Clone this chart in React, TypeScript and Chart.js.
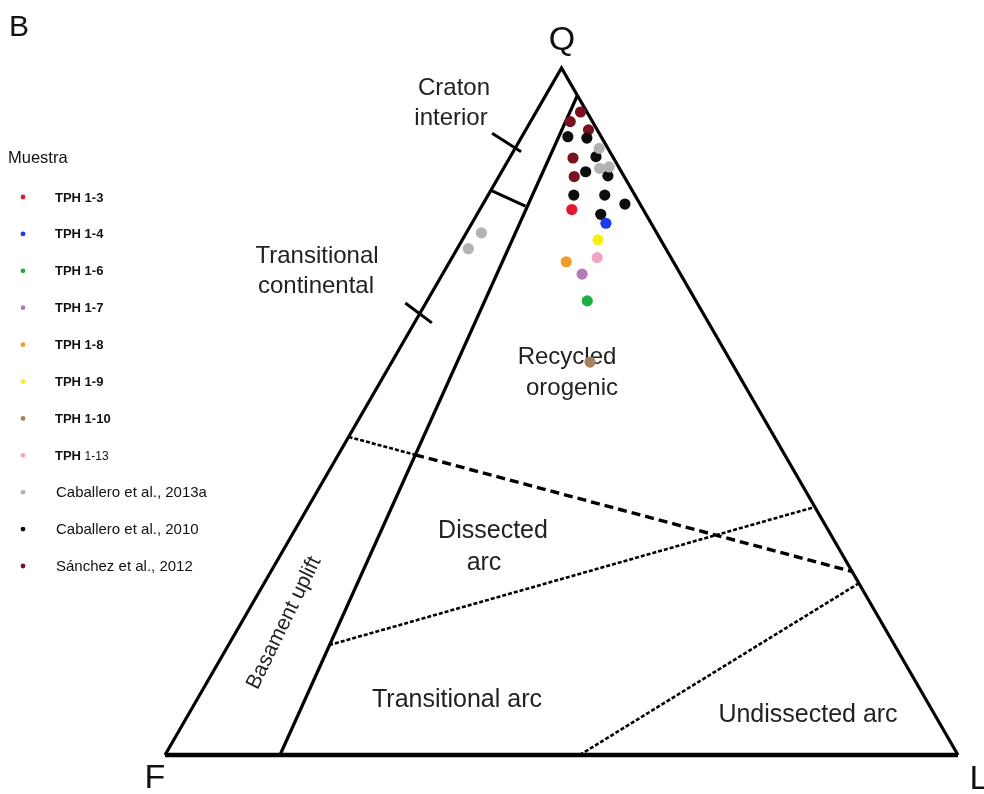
import React, { useEffect, useRef } from "react";
import { Chart, registerables } from "chart.js";

Chart.register(...registerables);

// Compositions are [Q, F, L] in percent.
type Comp = [number, number, number];

// ---- Sample compositions ----
const tph13: Comp[] = [[79.4, 9.0, 11.6]];
const tph14: Comp[] = [[77.4, 5.7, 16.9]];
const tph16: Comp[] = [[66.1, 13.7, 20.2]];
const tph17: Comp[] = [[70.0, 12.4, 17.6]];
const tph18: Comp[] = [[71.8, 13.5, 14.7]];
const tph19: Comp[] = [[75.0, 7.9, 17.1]];
const tph110: Comp[] = [[57.2, 17.8, 25.0]];
const tph113: Comp[] = [[72.4, 9.3, 18.3]];
const caballero2013a: Comp[] = [
  [88.3, 1.1, 10.6],
  [85.4, 2.5, 12.1],
  [85.6, 1.2, 13.2],
  [76.0, 22.1, 1.9],
  [73.7, 24.9, 1.4],
];
const caballero2010: Comp[] = [
  [90.0, 4.2, 5.8],
  [89.8, 1.9, 8.3],
  [87.1, 2.1, 10.8],
  [84.9, 4.5, 10.6],
  [84.3, 2.0, 13.7],
  [81.5, 7.7, 10.8],
  [81.5, 3.8, 14.7],
  [80.2, 1.9, 17.9],
  [78.7, 5.7, 15.6],
];
const sanchez2012: Comp[] = [
  [93.6, 0.8, 5.6],
  [92.2, 2.8, 5.0],
  [91.0, 1.1, 7.9],
  [86.9, 5.1, 8.0],
  [84.2, 6.3, 9.5],
];

const sampleNames = [
  "TPH 1-3",
  "TPH 1-4",
  "TPH 1-6",
  "TPH 1-7",
  "TPH 1-8",
  "TPH 1-9",
  "TPH 1-10",
  "TPH 1-13",
  "Caballero et al., 2013a",
  "Caballero et al., 2010",
  "Sánchez et al., 2012",
];
const sampleSets = [
  tph13, tph14, tph16, tph17, tph18, tph19, tph110, tph113,
  caballero2013a, caballero2010, sanchez2012,
];
const sampleColors = [
  "#e3172f", "#1c38f2", "#1fae45", "#b57ab8", "#ef9b2a", "#f7ee12",
  "#a78261", "#efa6c6", "#b3b3b3", "#0d0d0d", "#7b1222",
];

// ---- Dickinson QFL field boundaries ----
const triangleSides: Comp[] = [[0, 100, 0], [100, 0, 0], [0, 0, 100]];
const triangleBase: Comp[] = [[0, 100, 0], [0, 0, 100]];
const continentalBlockLimit: Comp[] = [[0, 85.5, 14.5], [96, 0, 4]];
const cratonTick: Comp[] = [[90.5, 13.5, -4.0], [87.8, 11.2, 1.0]];
const cratonTransitionalLimit: Comp[] = [[82.2, 17.8, 0], [79.9, 14.6, 5.5]];
const transitionalTick: Comp[] = [[65.8, 36.8, -2.6], [62.9, 34.9, 2.2]];
const upliftLimit: Comp[] = [[46.3, 53.7, 0], [43.7, 46.6, 9.7]];
const recycledLimit: Comp[] = [[43.7, 46.6, 9.7], [26.7, 0, 73.3]];
const dissectedLimit: Comp[] = [[16.0, 71.3, 12.7], [36.1, 0, 63.9]];
const undissectedLimit: Comp[] = [[0, 47.7, 52.3], [25.0, 0, 75.0]];

// ternary -> cartesian (unit side, Q apex on top)
const toXY = (c: Comp) => ({ x: (c[2] + c[0] / 2) / 100, y: c[0] / 100 });

const FONT = '"Liberation Sans", Arial, Helvetica, sans-serif';

const lineSet = (
  data: Comp[],
  width: number,
  dash: number[] = []
) => ({
  type: "scatter" as const,
  data: data.map(toXY),
  showLine: true,
  borderColor: "#000",
  backgroundColor: "#000",
  borderWidth: width,
  borderDash: dash,
  pointRadius: 0,
  pointHoverRadius: 0,
  tension: 0,
  borderCapStyle: "butt" as const,
  clip: false as const,
});

const labelsPlugin = {
  id: "qflLabels",
  beforeDatasetsDraw(chart: any) {
    const ctx: CanvasRenderingContext2D = chart.ctx;
    ctx.save();
    ctx.fillStyle = "#222";
    ctx.textAlign = "center";
    ctx.textBaseline = "middle";
    const t = (s: string, x: number, y: number) => ctx.fillText(s, x, y);
    ctx.font = `24px ${FONT}`;
    t("Craton", 454, 88);
    t("interior", 451, 118);
    t("Transitional", 317, 256);
    t("continental", 316, 286);
    t("Recycled", 567, 357);
    t("orogenic", 572, 388);
    ctx.font = `25px ${FONT}`;
    t("Dissected", 493, 531);
    t("arc", 484, 563);
    t("Transitional arc", 457, 700);
    t("Undissected arc", 808, 715);
    ctx.save();
    ctx.font = `21px ${FONT}`;
    ctx.translate(284, 623);
    ctx.rotate((-64 * Math.PI) / 180);
    t("Basament uplift", 0, 0);
    ctx.restore();
    ctx.restore();
  },
  afterDraw(chart: any) {
    const ctx: CanvasRenderingContext2D = chart.ctx;
    ctx.save();
    ctx.fillStyle = "#111";
    ctx.textBaseline = "alphabetic";
    ctx.textAlign = "left";
    ctx.font = `30px ${FONT}`;
    ctx.fillText("B", 9, 36);
    ctx.font = `34px ${FONT}`;
    ctx.textAlign = "center";
    ctx.fillText("Q", 562, 50);
    ctx.fillText("F", 155, 788);
    ctx.fillText("L", 979, 789);

    // legend
    ctx.textAlign = "left";
    ctx.textBaseline = "middle";
    ctx.font = `16.5px ${FONT}`;
    ctx.fillStyle = "#111";
    ctx.fillText("Muestra", 8, 158);
    sampleNames.forEach((name, i) => {
      const y = 197 + i * 36.9;
      ctx.beginPath();
      ctx.fillStyle = sampleColors[i];
      ctx.arc(23, y, 2.4, 0, Math.PI * 2);
      ctx.fill();
      ctx.fillStyle = "#111";
      if (name.startsWith("TPH")) {
        const num = name.slice(4);
        ctx.font = `bold 13px ${FONT}`;
        ctx.fillText("TPH ", 55, y + 1);
        const w = ctx.measureText("TPH ").width;
        ctx.font =
          num === "1-13" ? `12px ${FONT}` : `bold 13px ${FONT}`;
        ctx.fillText(num, 55 + w, y + 1);
      } else {
        ctx.font = `15px ${FONT}`;
        ctx.fillText(name, 56, y + 1);
      }
    });
    ctx.restore();
  },
};

export default function App() {
  const ref = useRef<HTMLCanvasElement | null>(null);

  useEffect(() => {
    if (!ref.current) return;
    const pointSets = sampleSets.map((set, i) => ({
      type: "scatter" as const,
      label: sampleNames[i],
      data: set.map(toXY),
      backgroundColor: sampleColors[i],
      borderColor: sampleColors[i],
      borderWidth: 0,
      pointRadius: 5.6,
      pointHoverRadius: 5.6,
      showLine: false,
      clip: false as const,
    }));
    const chart = new Chart(ref.current, {
      type: "scatter",
      data: {
        datasets: [
          ...pointSets,
          lineSet(triangleSides, 3.2),
          lineSet(triangleBase, 4.6),
          lineSet(continentalBlockLimit, 3.2),
          lineSet(cratonTick, 3),
          lineSet(cratonTransitionalLimit, 3),
          lineSet(transitionalTick, 3),
          lineSet(upliftLimit, 2.6, [4, 2]),
          lineSet(recycledLimit, 3.4, [9, 5]),
          lineSet(dissectedLimit, 2.6, [4, 2]),
          lineSet(undissectedLimit, 2.6, [4, 2]),
        ] as any,
      },
      options: {
        animation: false,
        responsive: false,
        maintainAspectRatio: false,
        events: [],
        layout: { padding: 0, autoPadding: false },
        scales: {
          x: { type: "linear", min: -0.2081, max: 1.0328, display: false },
          y: { type: "linear", min: -0.0568, max: 1.099, display: false },
        },
        plugins: {
          legend: { display: false },
          tooltip: { enabled: false },
        },
      },
      plugins: [labelsPlugin],
    });
    return () => chart.destroy();
  }, []);

  return (
    <div
      style={{
        position: "fixed",
        left: 0,
        top: 0,
        width: 984,
        height: 794,
        background: "#fff",
      }}
    >
      <canvas
        ref={ref}
        width={984}
        height={794}
        style={{ width: 984, height: 794, display: "block" }}
      />
    </div>
  );
}
